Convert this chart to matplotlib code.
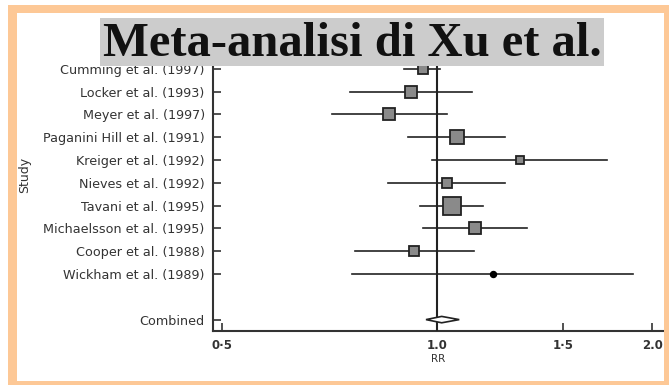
import matplotlib
matplotlib.use("Agg")
import matplotlib.pyplot as plt
from matplotlib.patches import Rectangle
import numpy as np

studies = ["Cumming et al. (1997)", "Locker et al. (1993)", "Meyer et al. (1997)",
           "Paganini Hill et al. (1991)", "Kreiger et al. (1992)", "Nieves et al. (1992)",
           "Tavani et al. (1995)", "Michaelsson et al. (1995)", "Cooper et al. (1988)",
           "Wickham et al. (1989)"]
rr = [0.956, 0.919, 0.857, 1.068, 1.307, 1.034, 1.049, 1.130, 0.927, 1.197]
ci_low = [0.90, 0.755, 0.712, 0.912, 0.985, 0.855, 0.947, 0.957, 0.768, 0.760]
ci_high = [1.01, 1.118, 1.032, 1.245, 1.731, 1.245, 1.159, 1.335, 1.127, 1.880]
box_px = [10, 12, 12, 14, 8, 10, 18, 12, 10, 6]
combined_label = "Combined"
combined_rr = 1.015
combined_low = 0.965
combined_high = 1.074
xticks = [0.5, 1.0, 1.5, 2.0]
xtick_labels = ["0·5", "1.0", "1·5", "2.0"]

W, H = 669, 385
fig = plt.figure(figsize=(W/100, H/100), dpi=100)
fig.patch.set_facecolor("white")

def fx(x): return x / W
def fy(y): return 1 - y / H

ax = fig.add_axes([fx(213), fy(331), fx(663) - fx(213), fy(62) - fy(331)])
ax.set_xscale("log")
ax.set_xlim(0.486, 2.07)
ax.set_ylim(11.5, -0.3)

ypos = list(range(len(studies)))
comb_y = len(studies) + 1

for i, (est, lo, hi, s) in enumerate(zip(rr, ci_low, ci_high, box_px)):
    ax.plot([lo, hi], [i, i], color="#222222", lw=1.2, zorder=2)
    if i == len(studies) - 1:
        ax.plot(est, i, marker="o", ms=s * 0.72, color="black", zorder=4)
    else:
        ax.plot(est, i, marker="s", ms=s * 0.72, mfc="#8a8a8a", mec="#222222",
                mew=1.3, zorder=4)

ax.axvline(1.0, color="#222222", lw=1.5, zorder=3)

h = 0.14
ax.fill([combined_low, combined_rr, combined_high, combined_rr],
        [comb_y, comb_y - h, comb_y, comb_y + h],
        facecolor="white", edgecolor="#222222", lw=1.2, zorder=5)

ax.set_yticks(ypos + [comb_y])
ax.set_yticklabels(studies + [combined_label], fontsize=9.2,
                   family="DejaVu Sans", color="#333333")
ax.set_xticks(xticks)
ax.set_xticklabels(xtick_labels, fontsize=8.5, family="DejaVu Sans",
                   color="#333333", fontweight="bold")
ax.xaxis.set_minor_locator(matplotlib.ticker.NullLocator())
ax.tick_params(axis="both", direction="in", length=6, width=1.2, color="#333333")
ax.tick_params(axis="y", pad=6)
ax.tick_params(axis="x", pad=6)
ax.set_xlabel("RR", fontsize=7.5, family="DejaVu Sans", color="#333333", labelpad=1)
ax.set_ylabel("Study", fontsize=9, family="DejaVu Sans", color="#333333")
ax.yaxis.set_label_coords((31 - 213) / (663 - 213), (331 - 175) / (331 - 62))
for sp in ["top", "right"]:
    ax.spines[sp].set_visible(False)
for sp in ["left", "bottom"]:
    ax.spines[sp].set_linewidth(1.5)
    ax.spines[sp].set_color("#333333")

# title box
fig.patches.append(Rectangle((fx(100), fy(66)), fx(604) - fx(100), fy(18) - fy(66),
                             transform=fig.transFigure, facecolor="#cccccc",
                             edgecolor="none", zorder=1))
fig.text(fx(352), fy(44), "Meta-analisi di Xu et al.", ha="center", va="center",
         fontsize=35, fontweight="bold", family="Liberation Serif", color="#111111",
         zorder=3)

# orange frame
orange = "#fdc896"
for (x0, y0, x1, y1) in [(8, 5, 669, 13), (8, 5, 17, 385), (664, 5, 669, 385), (8, 381, 669, 385)]:
    fig.patches.append(Rectangle((fx(x0), fy(y1)), fx(x1) - fx(x0), fy(y0) - fy(y1),
                                 transform=fig.transFigure, facecolor=orange,
                                 edgecolor="none", zorder=2))

fig.savefig("out.png", dpi=100)
